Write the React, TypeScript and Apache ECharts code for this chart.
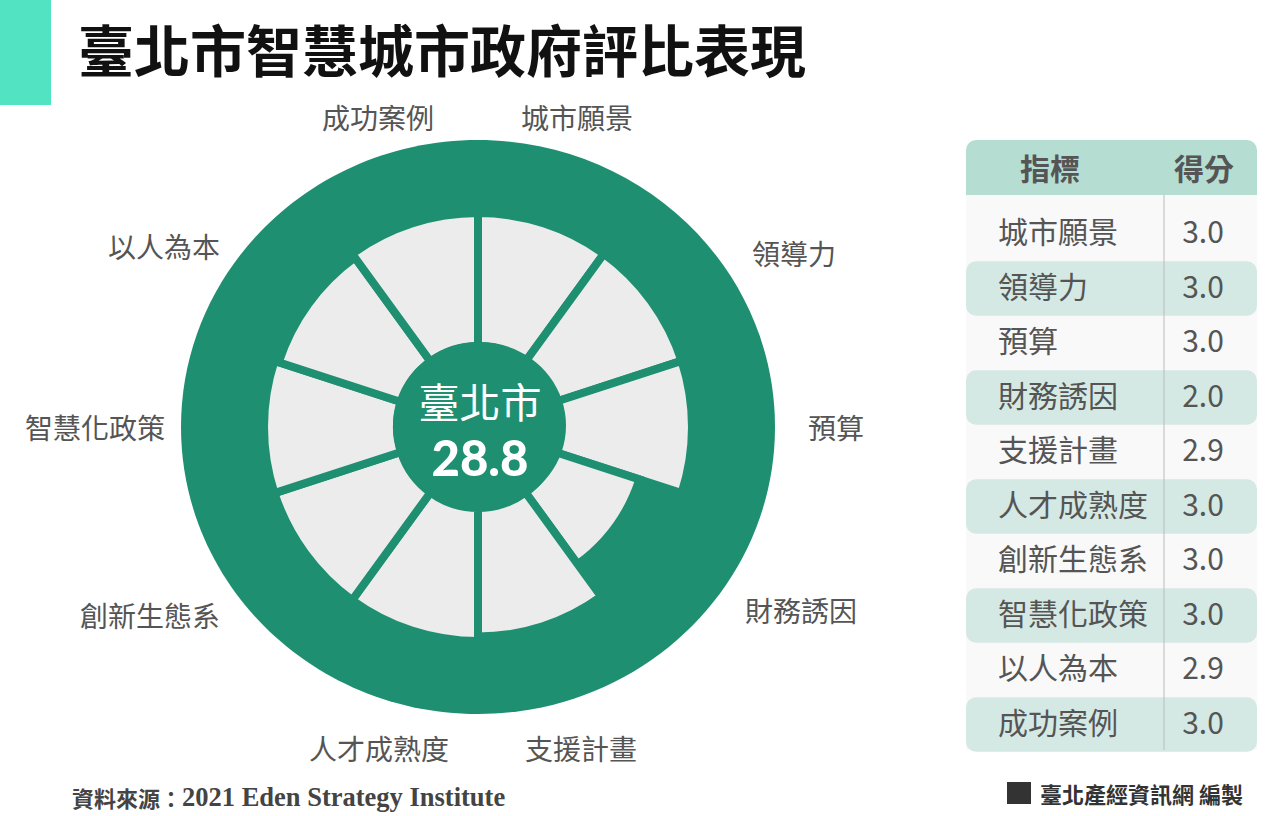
import React, { useEffect, useRef } from 'react';
import * as echarts from 'echarts';

// ---------- data ----------
const categories = ['城市願景', '領導力', '預算', '財務誘因', '支援計畫', '人才成熟度', '創新生態系', '智慧化政策', '以人為本', '成功案例'];
const scores = [3.0, 3.0, 3.0, 2.0, 2.9, 3.0, 3.0, 3.0, 2.9, 3.0];
const scoreMax = 3;
const cityName = '臺北市';
const tableHeaders = ['指標', '得分'];
const titleText = '臺北市智慧城市政府評比表現';
const sourceLabel = '資料來源：';
const sourceText = '2021 Eden Strategy Institute';
const creditText = '臺北產經資訊網 編製';

// ---------- styles / layout ----------
const FONT = '"Noto Sans CJK TC", "Noto Sans", sans-serif';
const GREEN = '#1e8f70';
const BAR_GRAY = '#ececec';
const LABEL_COLOR = '#555555';
const CX = 478;
const CY = 427;
const RING_RX = 297;
const RING_RY = 287;
const CENTER_RX = 86.5;
const CENTER_RY = 83.5;
const R_BAR_IN = 81;
const R_BAR_OUT = 214;
const LABEL_MARGIN = 116;
// per-label nudges [top, right, bottom, left]
const LABEL_PAD = [
  [0, 0, -18, -59],
  [0, 0, -34, 7],
  [5, 0, 0, 0],
  [-25, 0, 0, 0],
  [-7, 0, 0, -55],
  [-7, -73, 0, 0],
  [-20, -9, 0, 0],
  [5, -17, 0, 0],
  [0, -9, -27, 0],
  [0, -58, -18, 0],
];

const TABLE_X = 966;
const TABLE_W = 291;
const TABLE_TOP = 140;
const HEADER_H = 55;
const ROW_FIRST_CY = 233;
const ROW_H = 54.5;
const TABLE_BOTTOM = 750;
const DIVIDER_X = 1164;
const NAME_X = 998;
const SCORE_CX = 1203;

function txt(text: string, x: number, y: number, o: any = {}) {
  const align = o.align || 'left';
  const valign = o.valign || 'middle';
  return {
    type: 'text',
    z: o.z ?? 20,
    silent: true,
    style: {
      text,
      x,
      y,
      fill: o.fill || '#555',
      fontSize: o.fontSize || 20,
      fontWeight: o.fontWeight || 'normal',
      fontFamily: o.fontFamily || FONT,
      align,
      verticalAlign: valign,
      textAlign: align,
      textVerticalAlign: valign,
      rich: o.rich,
    },
  };
}

export default function App() {
  const ref = useRef<HTMLDivElement>(null);

  useEffect(() => {
    if (!ref.current) return;
    const chart = echarts.init(ref.current, null, { renderer: 'svg' });
    const total = scores.reduce((a, b) => a + b, 0).toFixed(1);

    const graphics: any[] = [];
    // accent + title
    graphics.push({ type: 'rect', z: 1, silent: true, shape: { x: 0, y: 0, width: 51, height: 105 }, style: { fill: '#52e3c2' } });
    graphics.push(txt(titleText, 78, 47, { fontSize: 56, fontWeight: 'bold', fill: '#111111' }));
    // outer ring
    graphics.push({ type: 'ellipse', z: 0, silent: true, shape: { cx: CX, cy: CY, rx: RING_RX, ry: RING_RY }, style: { fill: GREEN } });
    // center disc
    graphics.push({ type: 'ellipse', z: 10, silent: true, shape: { cx: CX + 1.5, cy: CY - 1.5, rx: CENTER_RX, ry: CENTER_RY }, style: { fill: GREEN } });
    graphics.push(txt(cityName, CX + 2, CY - 27, { align: 'center', fontSize: 41, fill: '#ffffff' }));
    graphics.push(txt(total, CX + 2, CY + 30, { align: 'center', fontSize: 49, fontWeight: 900, fill: '#ffffff', fontFamily: 'Lato, "Noto Sans", sans-serif' }));

    // table
    graphics.push({ type: 'rect', z: 1, silent: true, shape: { x: TABLE_X, y: TABLE_TOP + HEADER_H, width: TABLE_W, height: TABLE_BOTTOM - TABLE_TOP - HEADER_H }, style: { fill: '#f9f9f9' } });
    graphics.push({ type: 'rect', z: 2, silent: true, shape: { x: TABLE_X, y: TABLE_TOP, width: TABLE_W, height: HEADER_H, r: [10, 10, 0, 0] }, style: { fill: '#b5ddd2' } });
    graphics.push(txt(tableHeaders[0], 1050, TABLE_TOP + HEADER_H / 2 - 1, { align: 'center', fontSize: 30, fontWeight: 'bold', fill: '#555' }));
    graphics.push(txt(tableHeaders[1], 1204, TABLE_TOP + HEADER_H / 2 - 1, { align: 'center', fontSize: 30, fontWeight: 'bold', fill: '#555' }));
    categories.forEach((c, i) => {
      const cy = ROW_FIRST_CY + ROW_H * i;
      if (i % 2 === 1) {
        graphics.push({ type: 'rect', z: 3, silent: true, shape: { x: TABLE_X, y: cy - ROW_H / 2 + 1, width: TABLE_W, height: ROW_H, r: 10 }, style: { fill: '#d5e9e4' } });
      }
      graphics.push(txt(c, NAME_X, cy - 3, { fontSize: 30, fill: '#555' }));
      graphics.push(txt(scores[i].toFixed(1), SCORE_CX, cy - 3, { align: 'center', fontSize: 30, fill: '#555' }));
    });
    graphics.push({ type: 'line', z: 5, silent: true, shape: { x1: DIVIDER_X, y1: TABLE_TOP + HEADER_H, x2: DIVIDER_X, y2: TABLE_BOTTOM }, style: { stroke: '#bbbbbb', lineWidth: 1 } });

    // footer
    graphics.push(txt('{a|' + sourceLabel + '}{b|' + sourceText + '}', 72, 797, {
      fill: '#444',
      rich: {
        a: { fontFamily: FONT, fontSize: 22, fontWeight: 'bold', fill: '#444', color: '#444' },
        b: { fontFamily: '"Liberation Serif", serif', fontSize: 26.5, fontWeight: 'bold', fill: '#444', color: '#444' },
      },
    }));
    graphics.push({ type: 'rect', z: 1, silent: true, shape: { x: 1007, y: 782, width: 24, height: 22 }, style: { fill: '#333333' } });
    graphics.push(txt(creditText, 1040, 793, { fontSize: 22, fontWeight: 'bold', fill: '#333' }));

    chart.setOption({
      animation: false,
      backgroundColor: '#ffffff',
      polar: { center: [CX, CY], radius: [R_BAR_IN, R_BAR_OUT] },
      angleAxis: {
        type: 'category',
        data: categories.map((c, i) => ({ value: c, textStyle: { padding: LABEL_PAD[i] } })),
        startAngle: 90,
        clockwise: true,
        boundaryGap: true,
        axisLine: { show: false },
        axisTick: { show: false },
        splitLine: { show: false },
        axisLabel: { show: true, margin: LABEL_MARGIN, color: LABEL_COLOR, fontSize: 28, fontFamily: FONT },
        z: 15,
      },
      radiusAxis: {
        type: 'value',
        min: 0,
        max: scoreMax,
        axisLine: { show: false },
        axisTick: { show: false },
        axisLabel: { show: false },
        splitLine: { show: false },
      },
      series: [
        {
          type: 'bar',
          coordinateSystem: 'polar',
          data: scores,
          barCategoryGap: '0%',
          silent: true,
          z: 5,
          itemStyle: { color: BAR_GRAY, borderColor: GREEN, borderWidth: 8 },
        },
      ],
      graphic: { elements: graphics },
    });

    return () => chart.dispose();
  }, []);

  return <div ref={ref} style={{ position: 'fixed', left: 0, top: 0, width: 1272, height: 816, background: '#fff' }} />;
}
